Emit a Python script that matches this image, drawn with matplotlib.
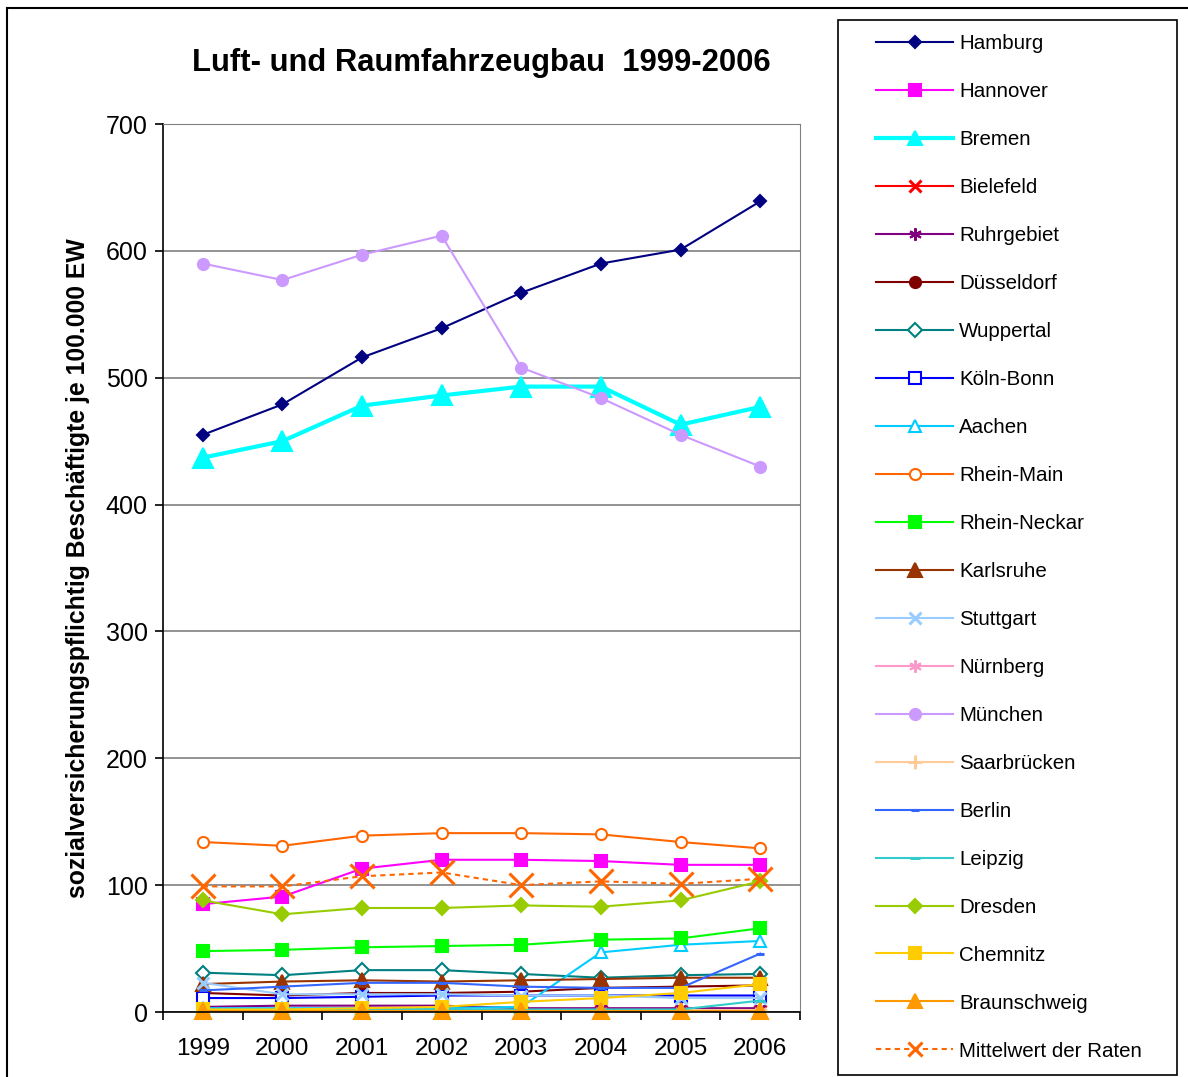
import matplotlib
matplotlib.use('Agg')
import matplotlib.pyplot as plt
from matplotlib.patches import Rectangle

plt.rcParams['font.family'] = ['Liberation Sans', 'DejaVu Sans']

years = ['1999', '2000', '2001', '2002', '2003', '2004', '2005', '2006']

hamburg = [455, 479, 516, 539, 567, 590, 601, 639]
hannover = [85, 91, 113, 120, 120, 119, 116, 116]
bremen = [437, 450, 478, 486, 493, 493, 463, 477]
bielefeld = [1, 1, 1, 1, 1, 1, 1, 1]
ruhrgebiet = [4, 5, 5, 5, 3, 3, 3, 3]
duesseldorf = [15, 13, 15, 15, 16, 19, 20, 21]
wuppertal = [31, 29, 33, 33, 30, 27, 29, 30]
koeln_bonn = [11, 11, 12, 13, 13, 13, 13, 13]
aachen = [3, 3, 3, 3, 4, 47, 53, 56]
rhein_main = [134, 131, 139, 141, 141, 140, 134, 129]
rhein_neckar = [48, 49, 51, 52, 53, 57, 58, 66]
karlsruhe = [22, 24, 25, 24, 25, 26, 27, 27]
stuttgart = [23, 14, 14, 14, 13, 13, 11, 11]
nuernberg = [0.5, 0.5, 0.5, 0.5, 0.5, 0.5, 0.5, 0.5]
muenchen = [590, 577, 597, 612, 508, 484, 455, 430]
saarbruecken = [1.5, 1.5, 1.5, 1.5, 1.5, 1.5, 1.5, 1.5]
berlin = [17, 20, 23, 23, 20, 19, 19, 46]
leipzig = [2, 2, 2, 2, 2, 2, 2, 9]
dresden = [88, 77, 82, 82, 84, 83, 88, 103]
chemnitz = [2, 2, 3, 4, 8, 11, 15, 22]
braunschweig = [1, 1, 1, 1, 1, 1, 1, 1]
mittelwert = [99, 99, 107, 110, 100, 103, 101, 105]

# (label, values, color, marker, markersize, filled, linewidth, linestyle)
series = [
    ('Hamburg', hamburg, '#000080', 'D', 6, True, 1.5, '-'),
    ('Hannover', hannover, '#FF00FF', 's', 8, True, 1.5, '-'),
    ('Bremen', bremen, '#00FFFF', '^', 15, True, 3.0, '-'),
    ('Bielefeld', bielefeld, '#FF0000', 'x', 8, True, 1.5, '-'),
    ('Ruhrgebiet', ruhrgebiet, '#800080', (6, 2, 0), 9, True, 1.5, '-'),
    ('Düsseldorf', duesseldorf, '#800000', 'o', 8, True, 1.5, '-'),
    ('Wuppertal', wuppertal, '#008080', 'D', 7, False, 1.5, '-'),
    ('Köln-Bonn', koeln_bonn, '#0000FF', 's', 8, False, 1.5, '-'),
    ('Aachen', aachen, '#00CCFF', '^', 9, False, 1.5, '-'),
    ('Rhein-Main', rhein_main, '#FF6600', 'o', 8, False, 1.5, '-'),
    ('Rhein-Neckar', rhein_neckar, '#00FF00', 's', 8, True, 1.5, '-'),
    ('Karlsruhe', karlsruhe, '#993300', '^', 10, True, 1.5, '-'),
    ('Stuttgart', stuttgart, '#99CCFF', 'x', 8, True, 1.5, '-'),
    ('Nürnberg', nuernberg, '#FF99CC', (6, 2, 0), 9, True, 1.5, '-'),
    ('München', muenchen, '#CC99FF', 'o', 8, True, 1.5, '-'),
    ('Saarbrücken', saarbruecken, '#FFCC99', '+', 10, True, 1.5, '-'),
    ('Berlin', berlin, '#3366FF', '_', 6, True, 1.5, '-'),
    ('Leipzig', leipzig, '#33CCCC', '_', 7, True, 1.5, '-'),
    ('Dresden', dresden, '#99CC00', 'D', 7, True, 1.5, '-'),
    ('Chemnitz', chemnitz, '#FFCC00', 's', 9, True, 1.5, '-'),
    ('Braunschweig', braunschweig, '#FF9900', '^', 11, True, 1.5, '-'),
    ('Mittelwert der Raten', mittelwert, '#FF6600', 'x', 17, True, 1.5, (0, (2.5, 2))),
]

fig = plt.figure(figsize=(11.88, 10.77), dpi=100)
ax = fig.add_axes([163 / 1188, 1 - 1012 / 1077, (800 - 163) / 1188, (1012 - 124) / 1077])

x = list(range(len(years)))
for label, vals, col, mk, ms, filled, lw, ls in series:
    mew = 2.2 if mk in ('x', '+', '_') else 1.5
    ax.plot(x, vals, color=col, lw=lw, ls=ls, marker=mk, markersize=ms,
            markerfacecolor=col if filled else 'white', markeredgecolor=col,
            markeredgewidth=mew, label=label, clip_on=False)

ax.set_xlim(-0.5, 7.5)
ax.set_ylim(0, 700)
ax.set_yticks(range(0, 701, 100))
ax.yaxis.grid(True, color='#808080', lw=1.2)
ax.set_axisbelow(True)
ax.tick_params(axis='y', labelsize=18, length=6, width=1.2, direction='out', pad=5)

ax.set_xticks([i - 0.5 for i in range(9)])
ax.set_xticklabels([])
ax.set_xticks(x, minor=True)
ax.set_xticklabels(years, minor=True)
ax.tick_params(axis='x', which='major', length=6, width=1.2, direction='out')
ax.tick_params(axis='x', which='minor', length=0, labelsize=17.5, pad=19)

for s in ['top', 'right']:
    ax.spines[s].set_color('#808080')
for s in ['left', 'bottom']:
    ax.spines[s].set_color('black')
    ax.spines[s].set_linewidth(1.2)

ax.set_ylabel('sozialversicherungspflichtig Beschäftigte je 100.000 EW',
              fontsize=17.8, fontweight='bold', labelpad=11)

fig.text(481.5 / 1188, 1 - 63 / 1077, 'Luft- und Raumfahrzeugbau  1999-2006',
         ha='center', va='center', fontsize=22.3, fontweight='bold')

# outer border and legend frame
fig.patches.append(Rectangle((7 / 1188, -0.01), 1.02, 1 - 8 / 1077 + 0.01,
                             transform=fig.transFigure, fill=False, ec='black', lw=1.5))
fig.patches.append(Rectangle((838 / 1188, 1 - 1075 / 1077), (1177 - 838) / 1188,
                             (1075 - 20) / 1077, transform=fig.transFigure,
                             fill=False, ec='black', lw=1.2))

handles, labels = ax.get_legend_handles_labels()
leg = fig.legend(handles, labels, loc='upper left',
                 bbox_to_anchor=(876 / 1188, 1 - 34 / 1077),
                 frameon=False, fontsize=14.8, handlelength=3.75, handletextpad=0.3,
                 labelspacing=1.41, borderpad=0, borderaxespad=0)
for h, s in zip(leg.legend_handles, series):
    h.set_markersize(min(s[4], 9.5))
    h.set_clip_on(False)

fig.savefig('out.png', dpi=100)
